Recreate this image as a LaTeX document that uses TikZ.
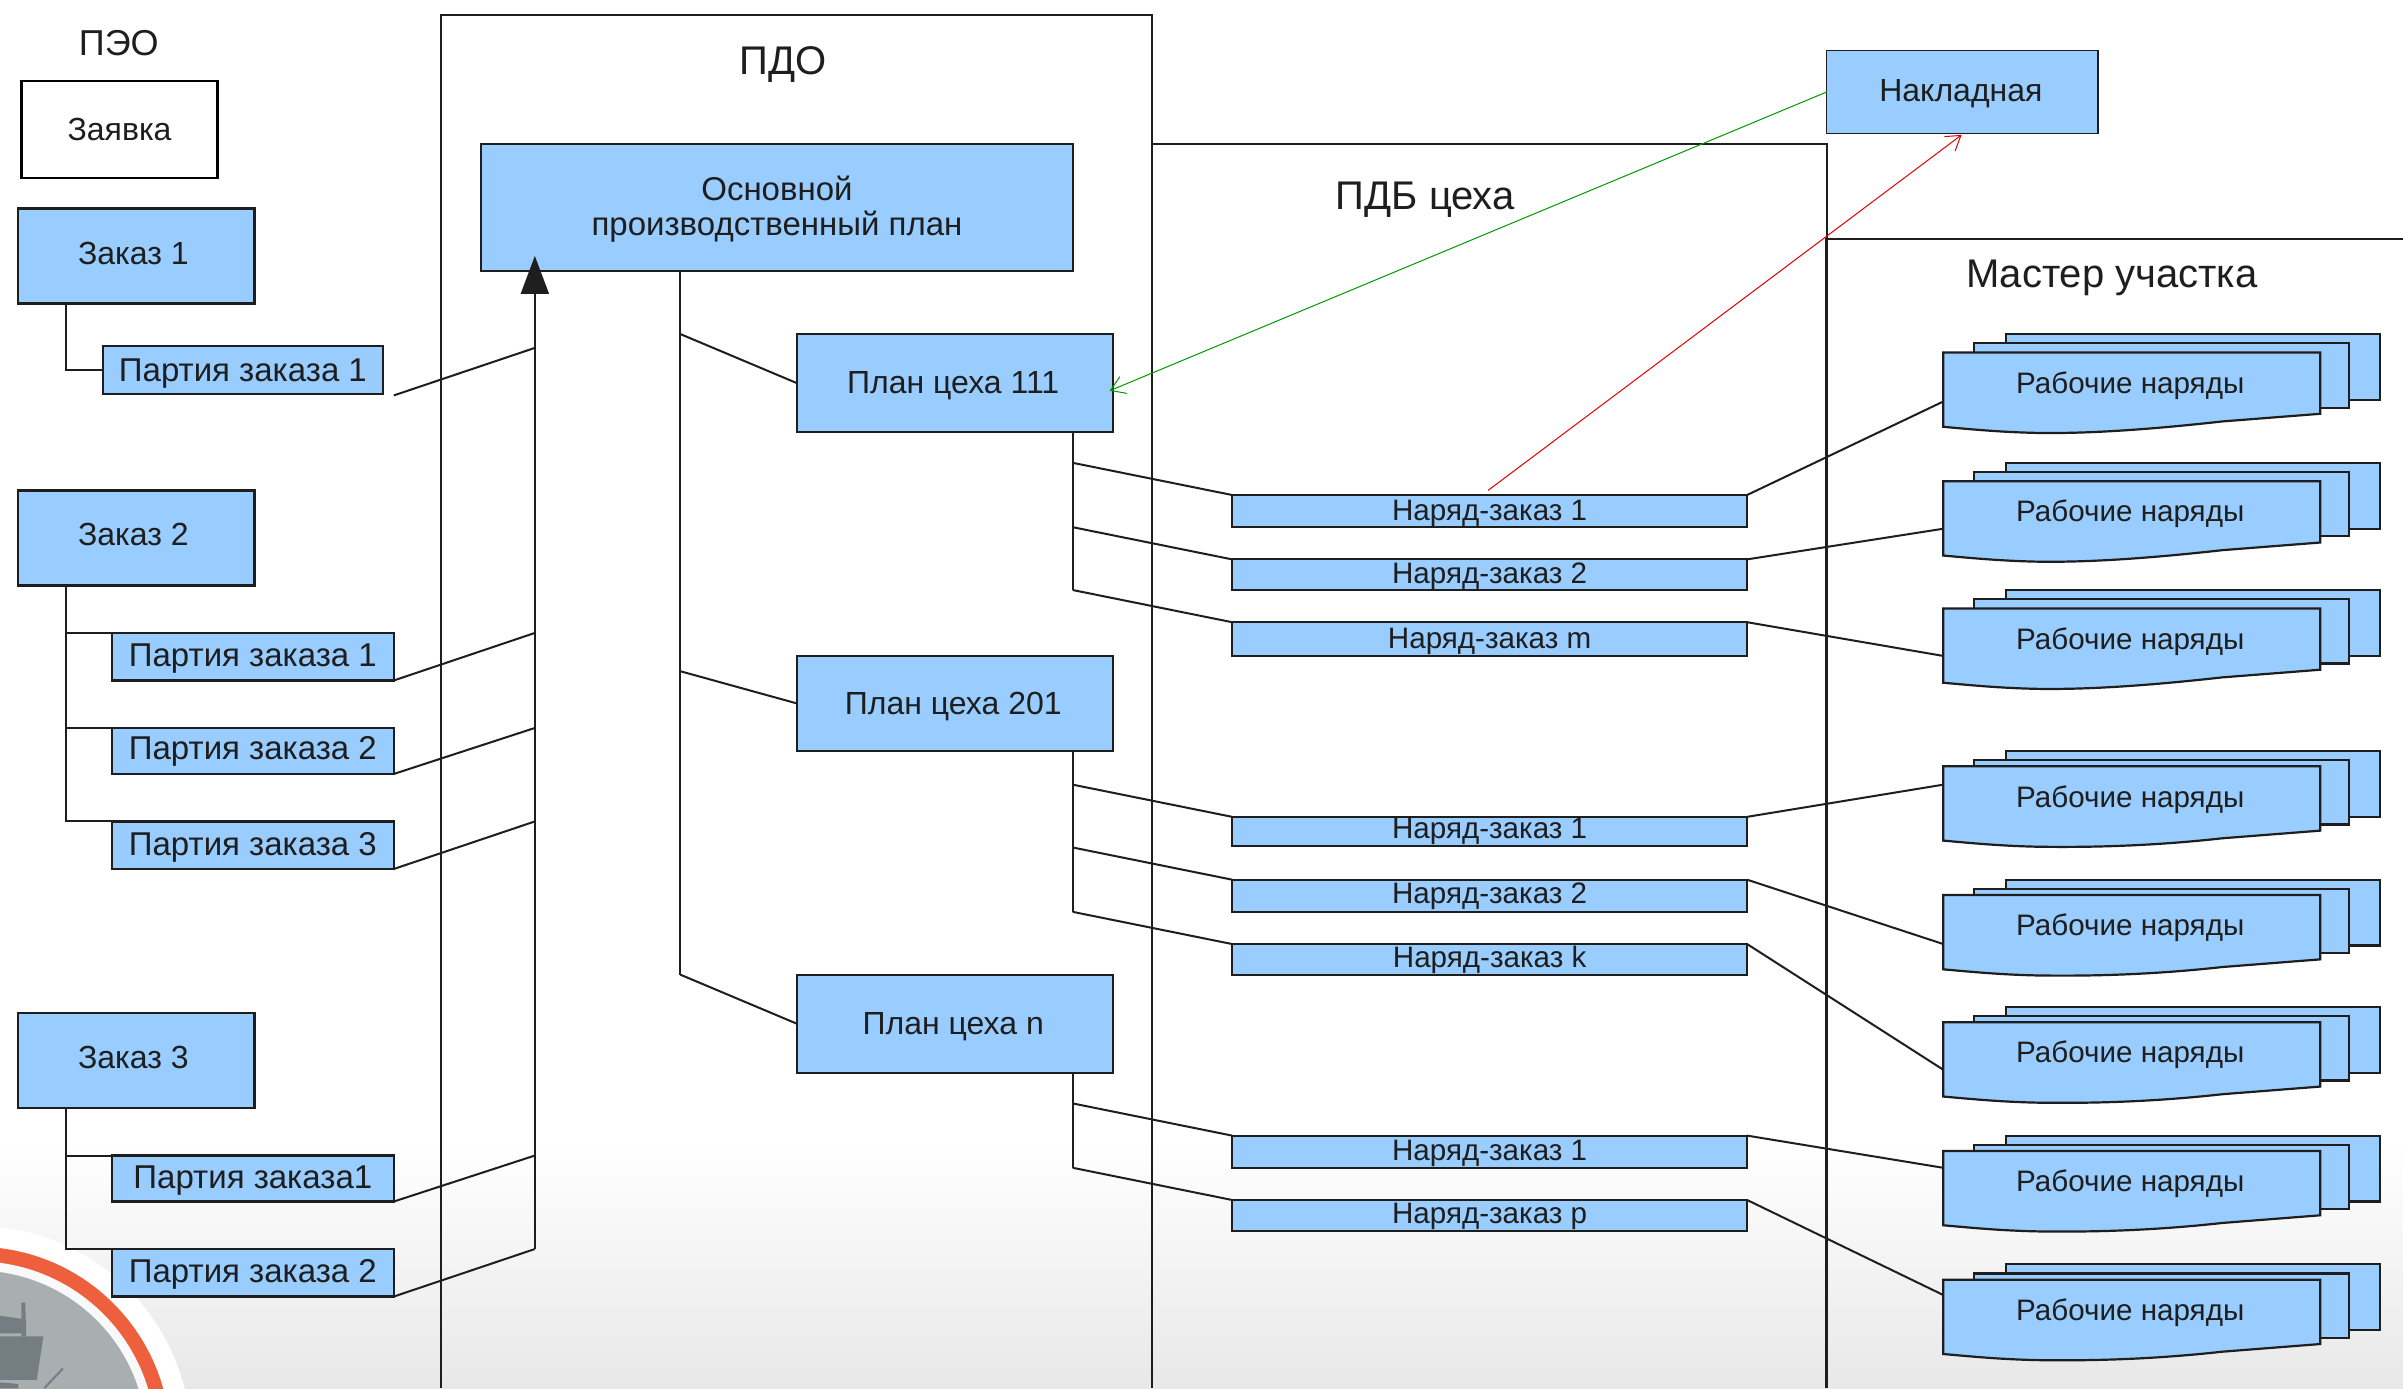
\documentclass[tikz,border=0pt]{standalone}
\usepackage{fontspec}
\setmainfont{Liberation Sans}
\usetikzlibrary{arrows.meta}
\definecolor{boxblue}{HTML}{99CCFF}
\definecolor{ink}{HTML}{1E1E1E}
\definecolor{ringred}{HTML}{EE5F3E}
\definecolor{discgray}{HTML}{A9AEB0}
\definecolor{shipgray}{HTML}{747E82}
\tikzset{
  x=0.76626pt,y=-0.76626pt,
  every node/.style={font=\fontsize{16}{17.6}\selectfont,text=ink,align=center,inner sep=0pt,outer sep=0pt},
  box/.style={draw=ink,fill=boxblue,line width=1.1pt},
  wide/.style={box,font=\fontsize{16.5}{17.6}\selectfont},
  whitebox/.style={draw=black,fill=white,line width=1.2pt},
  link/.style={draw=ink,line width=1pt},
  frameline/.style={draw=ink,line width=1pt},
  title/.style={font=\fontsize{20}{22}\selectfont},
  small/.style={font=\fontsize{14.8}{17}\selectfont},
}
% text lowered inside its node, node size unchanged
\newcommand{\dn}[2][1pt]{\raisebox{-#1}[\height][\depth]{#2}}
\newcommand{\bx}[7][box]{%
  \node[#1,minimum width={(#4-#2)*0.76626pt},minimum height={(#5-#3)*0.76626pt}] (#7) at ({(#2+#4)/2},{(#3+#5)/2}) {#6};}
% name, y of the topmost sheet, y of the attachment on the left side, how much shorter the front sheet is
\newcommand{\wstack}[4]{%
  \begin{scope}[shift={(0,#2)}]
    \draw[box] (1309,0) rectangle (1553,43);
    \draw[box] (1288,6) rectangle (1533,48);
    \draw[box] (1268,{12-#4}) -- (1514,{12-#4}) -- (1514,52) -- (1450,57) .. controls (1405,62) and (1365,{65-#4}) .. (1330,{64.5-#4}) .. controls (1305,{64-#4}) and (1285,{62-#4}) .. (1268,{60.5-#4}) -- cycle;
    \node[small] (#1) at (1390,{33.5-#4}) {Рабочие наряды};
    \coordinate (#1-w) at (1268,#3);
  \end{scope}}
\begin{document}
\begin{tikzpicture}
\useasboundingbox (0,0) rectangle (1568,905.73);
\fill[white] (0,0) rectangle (1568,905.73);
\shade[top color=white,bottom color=black!9] (0,745) rectangle (1568,905.73);
% logo
\begin{scope}
  \clip (0,780) rectangle (140,905.73);
  \fill[white] (-15.4,940) circle (140);
  \fill[ringred] (-15.4,940) circle (126.5);
  \fill[white!95!gray] (-15.4,940) circle (117);
  \fill[discgray] (-15.4,940) circle (111);
  \fill[shipgray] (14,850) -- (16.5,850) -- (17,872) -- (14,872) -- cycle;
  \fill[shipgray] (0,858.5) -- (17,861) -- (17,870) -- (0,870) -- cycle;
  \fill[shipgray] (0,872) -- (28.3,872) -- (24,900.4) -- (0,900.4) -- cycle;
  \fill[shipgray] (0,902) -- (12,903) -- (12,906) -- (0,906) -- cycle;
  \draw[shipgray,line width=1pt] (41,893) -- (29,905.7);
\end{scope}
% frames
\draw[frameline] (288,905.73) -- (288,10) -- (752,10) -- (752,905.73);
\draw[frameline] (752,94) -- (1192,94) -- (1192,905.73);
\draw[frameline,line width=1.3pt] (1192,905.73) -- (1192,156) -- (1568,156);
\node[title] (tpdo) at (511,42) {ПДО};
\node[title] (tpdb) at (930,130) {ПДБ цеха};
\node[title] (tmas) at (1378,181) {Мастер участка};
\node[font=\fontsize{18}{20}\selectfont] (tpeo) at (77.5,28) {ПЭО};
% left column
\bx[whitebox]{14}{53}{142}{116}{Заявка}{zv}
\bx{12}{136}{166}{198}{\raisebox{1pt}[\height][\depth]{Заказ 1}\kern3pt}{za1}
\bx[wide]{67}{226}{250}{257}{\dn[1.5pt]{Партия заказа 1}}{p11}
\bx{12}{320}{166}{382}{\raisebox{1.5pt}[\height][\depth]{Заказ 2}\kern3pt}{za2}
\bx[wide]{73}{413}{257}{444}{\dn{Партия заказа 1}}{p21}
\bx[wide]{73}{475}{257}{505}{\dn[0.4pt]{Партия заказа 2}}{p22}
\bx[wide]{73}{536}{257}{567}{\dn{Партия заказа 3}}{p23}
\bx{12}{661}{166}{723}{\raisebox{1.5pt}[\height][\depth]{Заказ 3}\kern3pt}{za3}
\bx[wide]{73}{754}{257}{784}{\dn{Партия заказа1}}{p31}
\bx[wide]{73}{815}{257}{846}{\dn{Партия заказа 2}}{p32}
% left tree
\coordinate (t1) at (43,198);
\draw[link] (t1) |- (p11.west);
\coordinate (t2) at (43,382);
\draw[link] (t2) |- (p21.north west);
\draw[link] (t2) |- (p22.north west);
\draw[link] (t2) |- (p23.north west);
\coordinate (t3) at (43,723);
\draw[link] (t3) |- (p31.north west);
\draw[link] (t3) |- (p32.north west);
% main plan
\bx[wide]{314}{94}{700}{177}{\dn[0.8pt]{Основной}\\\dn[0.8pt]{производственный план}}{osn}
\coordinate (tip) at (349,167);
\coordinate (a0) at (349,227);
\coordinate (a1) at (349,413);
\coordinate (a2) at (349,475);
\coordinate (a3) at (349,536);
\coordinate (a4) at (349,754);
\coordinate (a5) at (349,815);
\coordinate (p11c) at (257,258);
\draw[link] (p11c) -- (a0);
\draw[link] (p21.south east) -- (a1);
\draw[link] (p22.south east) -- (a2);
\draw[link] (p23.south east) -- (a3);
\draw[link] (p31.south east) -- (a4);
\draw[link] (p32.south east) -- (a5);
\draw[link,-{Triangle[length=19pt,width=14pt]}] (a5) -- (tip);
% shop plans
\bx{520}{218}{726}{282}{\dn[1.5pt]{План цеха 111}\kern1.5pt}{pl1}
\bx{520}{428}{726}{490}{\dn[1.5pt]{План цеха 201}\kern1.5pt}{pl2}
\bx{520}{636}{726}{700}{\dn[1.5pt]{План цеха n}\kern1.5pt}{pl3}
\coordinate (b0) at (444,177);
\coordinate (b1) at (444,218);
\coordinate (b2) at (444,438);
\coordinate (b3) at (444,636);
\draw[link] (b0) -- (b3);
\draw[link] (b1) -- (pl1.west);
\draw[link] (b2) -- (pl2.west);
\draw[link] (b3) -- (pl3.west);
% work orders
\tikzset{every node/.append style={font=\fontsize{14.8}{17}\selectfont}}
\bx{804}{323}{1140}{344}{\dn{Наряд-заказ 1}}{n11}
\bx{804}{365}{1140}{385}{\dn{Наряд-заказ 2}}{n12}
\bx{804}{406}{1140}{428}{\dn{Наряд-заказ m}}{n13}
\bx{804}{533}{1140}{552}{Наряд-заказ 1}{n21}
\bx{804}{574}{1140}{595}{\dn[0.4pt]{Наряд-заказ 2}}{n22}
\bx{804}{616}{1140}{636}{Наряд-заказ k}{n23}
\bx{804}{741}{1140}{762}{\dn{Наряд-заказ 1}}{n31}
\bx{804}{783}{1140}{803}{\dn[0.4pt]{Наряд-заказ p}}{n32}
% plan to order trunks
\coordinate (c10) at (700,282);
\coordinate (c11) at (700,302);
\coordinate (c12) at (700,344);
\coordinate (c13) at (700,385);
\draw[link] (c10) -- (c13);
\draw[link] (c11) -- (n11.north west);
\draw[link] (c12) -- (n12.north west);
\draw[link] (c13) -- (n13.north west);
\coordinate (c20) at (700,490);
\coordinate (c21) at (700,512);
\coordinate (c22) at (700,553);
\coordinate (c23) at (700,595);
\draw[link] (c20) -- (c23);
\draw[link] (c21) -- (n21.north west);
\draw[link] (c22) -- (n22.north west);
\draw[link] (c23) -- (n23.north west);
\coordinate (c30) at (700,700);
\coordinate (c31) at (700,720);
\coordinate (c32) at (700,762);
\draw[link] (c30) -- (c32);
\draw[link] (c31) -- (n31.north west);
\draw[link] (c32) -- (n32.north west);
% worker stacks
\wstack{r1}{218}{44}{0}
\wstack{r2}{302}{43}{0}
\wstack{r3}{385}{43}{0}
\wstack{r4}{490}{22}{2}
\wstack{r5}{574}{42}{2}
\wstack{r6}{657}{41}{2}
\wstack{r7}{741}{21}{2}
\wstack{r8}{825}{20}{2}
\draw[link] (n11.north east) -- (r1-w);
\draw[link] (n12.north east) -- (r2-w);
\draw[link] (n13.north east) -- (r3-w);
\draw[link] (n21.north east) -- (r4-w);
\draw[link] (n22.north east) -- (r5-w);
\draw[link] (n23.north east) -- (r6-w);
\draw[link] (n31.north east) -- (r7-w);
\draw[link] (n32.north east) -- (r8-w);
% invoice
\tikzset{every node/.append style={font=\fontsize{16}{17.6}\selectfont}}
\bx[box,line width=0.6pt]{1192}{33}{1369}{87}{\dn[0.8pt]{Накладная}\kern1.5pt}{nak}
\coordinate (gend) at (724,255);
\coordinate (rstart) at (971,320);
\coordinate (rend) at (1280,88);
\draw[draw=green!60!black,line width=0.5pt,-{Straight Barb[length=7pt,width=9pt]}] (nak.west) -- (gend);
\draw[draw=red!90!black,line width=0.5pt,-{Straight Barb[length=7pt,width=9pt]}] (rstart) -- (rend);
\end{tikzpicture}
\end{document}
